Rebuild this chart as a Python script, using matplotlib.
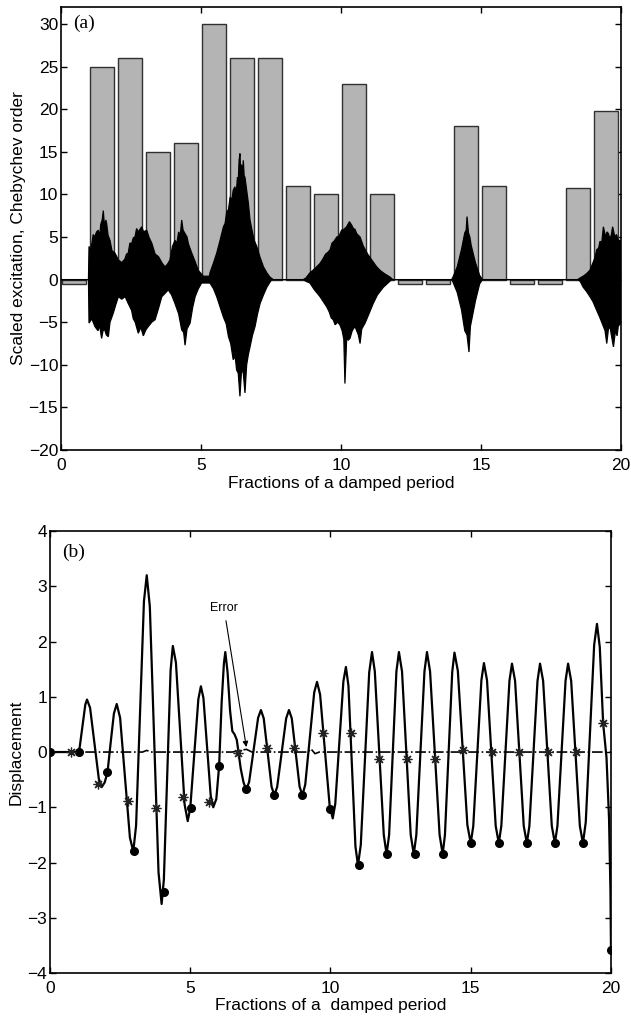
import numpy as np
from matplotlib import pyplot as plt

# ---------------- panel (a): excitation segments ----------------
BAR_ORDER = [-0.5, 25, 26, 15, 16, 30, 26, 26, 11, 10,
             23, 10, -0.5, -0.5, 18, 11, -0.5, -0.5, 10.8, 19.8]

# upper / lower envelope of the (dense) scaled excitation signal
SIG_UP_X = [0, 0.98, 1.0, 1.05, 1.1, 1.15, 1.2, 1.27, 1.33, 1.38, 1.42, 1.47, 1.51,
            1.55, 1.6, 1.63, 1.68, 1.75, 1.82, 1.93, 2.05, 2.17, 2.28, 2.34, 2.40,
            2.46, 2.52, 2.58, 2.64, 2.70, 2.75, 2.82, 2.88, 2.95, 3.06, 3.15,
            3.24, 3.36, 3.48, 3.60, 3.71, 3.80, 3.89, 3.98, 4.07, 4.14, 4.2, 4.26,
            4.31, 4.36, 4.43, 4.50, 4.55, 4.67, 4.78, 4.90, 5.08, 5.3,
            5.32, 5.45, 5.56, 5.68, 5.80, 5.86, 5.92, 5.98, 6.04, 6.10, 6.15, 6.21,
            6.26, 6.30, 6.33, 6.36, 6.39, 6.42, 6.45, 6.48, 6.51, 6.54, 6.57, 6.63,
            6.69, 6.75, 6.81, 6.90, 6.99, 7.11, 7.23, 7.35, 7.46, 7.58,
            8.65, 8.75, 8.89, 9.0, 9.1, 9.25, 9.35, 9.45, 9.53, 9.61, 9.68, 9.75,
            9.85, 9.93, 10.02, 10.1, 10.2, 10.3, 10.38, 10.44, 10.5, 10.56, 10.68,
            10.8, 10.95, 11.1, 11.25, 11.39, 11.55, 11.75, 11.85,
            13.95, 14.0, 14.15, 14.3, 14.42, 14.47, 14.5, 14.55, 14.6, 14.65,
            14.8, 14.95, 15.05,
            18.45, 18.54, 18.65, 18.77, 18.89, 19.0, 19.07, 19.13, 19.2, 19.25,
            19.31, 19.37, 19.45, 19.5, 19.55, 19.6, 19.65, 19.7, 19.78, 19.84,
            19.9, 20.0]
SIG_UP_Y = [0, 0, 3.9, 3.4, 4.2, 5.3, 5.0, 5.6, 5.8, 5.1, 6.5, 7.0, 8.1,
            6.3, 7.0, 6.6, 5.2, 4.6, 3.4, 3.1, 2.3, 2.0, 2.4, 3.0, 3.1,
            4.3, 4.2, 4.9, 5.0, 6.0, 5.6, 5.9, 6.2, 5.6, 5.8, 4.9,
            4.3, 3.0, 2.7, 2.0, 1.5, 1.8, 2.3, 3.9, 4.6, 4.3, 5.6, 5.2,
            7.0, 5.8, 5.4, 5.0, 4.2, 3.1, 2.2, 1.1, 0.4, 0.4,
            0.8, 2.0, 3.1, 4.6, 6.2, 6.6, 8.0, 8.2, 9.7, 9.3, 10.5, 10.9,
            10.2, 12.0, 11.6, 14.0, 14.8, 12.5, 13.5, 12.0, 14.0, 12.2, 12.0, 10.5,
            9.0, 7.0, 6.0, 4.6, 3.9, 2.6, 1.5, 0.8, 0.3, 0.0,
            0.0, 0.2, 0.8, 1.1, 1.4, 1.9, 2.4, 3.0, 3.2, 3.5, 4.3, 4.5,
            5.0, 5.1, 5.8, 5.9, 6.2, 6.8, 6.4, 6.0, 5.9, 5.4, 5.0,
            3.9, 3.0, 2.3, 1.6, 1.1, 0.7, 0.3, 0.0,
            0.0, 0.3, 1.5, 3.5, 5.5, 5.8, 7.4, 5.5, 5.0, 4.0,
            2.0, 0.5, 0.0,
            0.0, 0.2, 0.4, 0.7, 1.1, 2.0, 2.6, 3.5, 3.7, 4.5,
            4.3, 6.2, 5.0, 5.6, 5.4, 4.8, 5.2, 6.2, 5.0, 5.3,
            4.6, 4.6]

SIG_LO_X = [0, 0.98, 1.0, 1.1, 1.21, 1.32, 1.38, 1.45, 1.5, 1.55, 1.62, 1.69, 1.75,
            1.87, 1.96, 2.05, 2.17, 2.29, 2.40, 2.52, 2.58, 2.65, 2.70, 2.76, 2.85,
            2.94, 3.03, 3.12, 3.24, 3.36, 3.48, 3.60, 3.72, 3.83, 3.95, 4.07, 4.2,
            4.31, 4.38, 4.43, 4.5, 4.61, 4.70, 4.79, 4.90, 5.02, 5.3,
            5.32, 5.45, 5.56, 5.68, 5.80, 5.9, 5.98, 6.06, 6.15, 6.22, 6.27, 6.33,
            6.39, 6.45, 6.51, 6.57, 6.63, 6.69, 6.75, 6.84, 6.93, 7.02, 7.11, 7.23,
            7.35, 7.52,
            8.65, 8.75, 8.89, 9.05, 9.25, 9.37, 9.49, 9.58, 9.65, 9.72, 9.79, 9.88,
            9.96, 10.04, 10.1, 10.14, 10.2, 10.26, 10.32, 10.4, 10.5, 10.56, 10.62,
            10.68, 10.74, 10.86, 11.0, 11.15, 11.3, 11.51, 11.81,
            13.95, 14.0, 14.15, 14.3, 14.42, 14.5, 14.57, 14.62, 14.65, 14.8,
            14.95, 15.05,
            18.45, 18.54, 18.65, 18.77, 18.89, 19.0, 19.13, 19.25, 19.37, 19.43,
            19.49, 19.55, 19.61, 19.67, 19.73, 19.8, 19.86, 19.9, 20.0]
SIG_LO_Y = [0, 0, -5.1, -4.6, -5.5, -6.0, -5.4, -6.9, -6.0, -5.8, -6.5, -6.7, -5.0,
            -3.9, -2.9, -2.0, -2.3, -2.0, -2.8, -3.6, -4.6, -5.0, -5.6, -6.3, -5.6,
            -6.6, -5.9, -5.5, -5.0, -4.7, -3.4, -2.0, -1.6, -1.2, -1.8, -2.8, -4.0,
            -5.9, -6.2, -7.7, -5.8, -5.1, -3.3, -2.0, -1.1, -0.4, -0.4,
            -0.4, -1.1, -2.0, -3.2, -4.4, -5.2, -6.7, -7.5, -9.4, -9.0, -10.6, -11.0,
            -13.7, -10.5, -11.0, -13.3, -10.0, -8.8, -7.9, -6.5, -5.5, -4.0, -2.8, -1.8,
            -0.9, 0.0,
            0.0, -0.2, -0.4, -1.2, -2.0, -2.6, -3.2, -3.8, -4.5, -4.7, -5.3, -5.0,
            -5.3, -6.0, -7.0, -12.2, -7.0, -7.1, -6.9, -6.0, -5.5, -6.0, -6.5,
            -7.5, -5.8, -5.1, -4.0, -2.8, -1.8, -0.9, 0.0,
            0.0, -0.3, -1.5, -3.5, -6.0, -6.5, -8.5, -5.5, -5.0, -2.5,
            -0.5, 0.0,
            0.0, -0.2, -0.9, -1.4, -2.0, -2.6, -3.6, -4.5, -5.5, -6.0,
            -7.5, -5.8, -5.6, -6.8, -7.9, -6.0, -6.6, -5.5, -5.0]

# ---------------- panel (b): displacement ----------------
DISP_X = [0, 1.0, 1.06, 1.16, 1.26, 1.32,
          1.43, 1.585, 1.74, 1.85,
          1.95, 2.05, 2.17, 2.28, 2.38,
          2.50, 2.675, 2.85, 2.97,
          3.07, 3.21, 3.35, 3.45,
          3.56, 3.715, 3.87, 3.98,
          4.06, 4.18, 4.30, 4.38,
          4.49, 4.645, 4.80, 4.91,
          5.00, 5.145, 5.29, 5.38,
          5.47, 5.60, 5.73, 5.82,
          5.93, 6.03, 6.12, 6.20, 6.25,
          6.33, 6.42, 6.50, 6.58, 6.66, 6.72, 6.80, 6.90, 7.00,
          7.10, 7.26, 7.42, 7.52,
          7.62, 7.76, 7.90, 8.00,
          8.10, 8.26, 8.42, 8.52,
          8.62, 8.76, 8.90, 9.00,
          9.10, 9.26, 9.42, 9.52,
          9.63, 9.80, 9.97, 10.08,
          10.17, 10.315, 10.46, 10.55,
          10.64, 10.765, 10.89, 10.98,
          11.08, 11.23, 11.38, 11.48,
          11.58, 11.74, 11.90, 12.00,
          12.09, 12.22, 12.35, 12.44,
          12.55, 12.705, 12.86, 12.97,
          13.06, 13.205, 13.35, 13.44,
          13.55, 13.72, 13.89, 14.00,
          14.08, 14.21, 14.34, 14.42,
          14.54, 14.71, 14.88, 15.00,
          15.09, 15.235, 15.38, 15.47,
          15.58, 15.735, 15.89, 16.00,
          16.09, 16.235, 16.38, 16.47,
          16.58, 16.735, 16.89, 17.00,
          17.09, 17.235, 17.38, 17.47,
          17.58, 17.735, 17.89, 18.00,
          18.09, 18.235, 18.38, 18.47,
          18.58, 18.735, 18.89, 19.00,
          19.10, 19.25, 19.40, 19.50,
          19.60, 19.72, 19.84, 19.93, 19.98, 20.0]
DISP_Y = [0, 0, 0.09, 0.47, 0.86, 0.95,
          0.80, 0.16, -0.48, -0.63,
          -0.55, -0.37, 0.20, 0.70, 0.87,
          0.62, -0.47, -1.55, -1.80,
          -1.33, 0.70, 2.73, 3.20,
          2.63, 0.23, -2.18, -2.75,
          -2.31, -0.42, 1.48, 1.92,
          1.62, 0.34, -0.95, -1.25,
          -1.02, -0.03, 0.96, 1.19,
          0.98, 0.10, -0.79, -1.00,
          -0.85, -0.25, 0.90, 1.60, 1.81,
          1.45, 0.75, 0.38, 0.32, 0.22, 0.00, -0.30, -0.55, -0.68,
          -0.54, 0.04, 0.62, 0.76,
          0.61, -0.01, -0.63, -0.78,
          -0.63, -0.01, 0.61, 0.76,
          0.61, -0.01, -0.63, -0.78,
          -0.59, 0.25, 1.08, 1.27,
          1.04, 0.04, -0.97, -1.20,
          -0.94, 0.17, 1.28, 1.54,
          1.20, -0.26, -1.71, -2.05,
          -1.68, -0.12, 1.44, 1.81,
          1.46, -0.02, -1.50, -1.85,
          -1.50, -0.02, 1.46, 1.81,
          1.46, -0.02, -1.50, -1.85,
          -1.50, -0.02, 1.46, 1.81,
          1.46, -0.02, -1.50, -1.85,
          -1.50, -0.03, 1.45, 1.80,
          1.47, 0.08, -1.32, -1.65,
          -1.34, -0.02, 1.30, 1.61,
          1.30, -0.02, -1.34, -1.65,
          -1.34, -0.02, 1.29, 1.60,
          1.29, -0.03, -1.34, -1.65,
          -1.34, -0.02, 1.29, 1.60,
          1.29, -0.03, -1.34, -1.65,
          -1.34, -0.02, 1.29, 1.60,
          1.29, -0.03, -1.34, -1.65,
          -1.27, 0.34, 1.94, 2.32,
          1.90, 0.52, -0.10, -1.20, -2.50, -3.60]

# dash-dot error curve (close to zero)
ERR_X = [0, 3.3, 3.45, 3.6, 6.5, 6.8, 7.0, 7.2, 9.2, 9.3, 9.45, 9.6, 20]
ERR_Y = [0, 0, 0.03, 0, 0, 0.03, 0.05, 0, 0, 0.06, -0.03, 0, 0]

DOT_X = [0, 1.03, 2.05, 3.0, 4.05, 5.03, 6.03, 7.0, 8.0, 9.0, 10.0,
         11.0, 12.0, 13.0, 14.0, 15.0, 16.0, 17.0, 18.0, 19.0, 20.0]
DOT_Y = [0, 0, -0.37, -1.80, -2.53, -1.02, -0.25, -0.67, -0.77, -0.77, -1.03,
         -2.05, -1.85, -1.85, -1.85, -1.65, -1.65, -1.65, -1.65, -1.65, -3.58]

STAR_X = [0.75, 1.72, 2.77, 3.77, 4.75, 5.68, 6.72, 7.73, 8.70, 9.74,
          10.73, 11.73, 12.73, 13.73, 14.72, 15.76, 16.72, 17.75, 18.75, 19.72]
STAR_Y = [0, -0.58, -0.89, -1.02, -0.82, -0.90, -0.02, 0.07, 0.07, 0.34,
          0.34, -0.13, -0.13, -0.13, 0.04, 0.0, 0.0, 0.0, 0.0, 0.52]

SANS = "Liberation Sans"
SERIF = "Liberation Serif"
FONT_SIZE = 12.5


def style_axis(ax):
    """MATLAB-like boxed axis with inward ticks on all sides"""
    ax.tick_params(direction="in", top=True, right=True, length=4, width=1,
                   labelsize=FONT_SIZE)
    ax.tick_params(axis="x", pad=6)
    ax.tick_params(axis="y", pad=2)
    for lbl in ax.get_xticklabels() + ax.get_yticklabels():
        lbl.set_fontfamily(SANS)
    for sp in ax.spines.values():
        sp.set_linewidth(1.2)


fig = plt.figure(figsize=(6.31, 10.16), dpi=100)

# ---- (a)
ax1 = fig.add_axes([0.0967, 0.5571, 0.8875, 0.4360])
segments = np.arange(len(BAR_ORDER))
ax1.bar(segments + 0.05, BAR_ORDER, width=0.83, align="edge",
        color="#b4b4b4", edgecolor="#303030", linewidth=1.0, zorder=2)
poly_x = np.concatenate([SIG_UP_X, SIG_LO_X[::-1]])
poly_y = np.concatenate([SIG_UP_Y, SIG_LO_Y[::-1]])
ax1.fill(poly_x, poly_y, facecolor="black", edgecolor="black",
         linewidth=0.9, zorder=3)
ax1.set_xlim(0, 20)
ax1.set_ylim(-20, 32)
ax1.set_xticks([0, 5, 10, 15, 20])
ax1.set_yticks(np.arange(-20, 31, 5))
style_axis(ax1)
ax1.set_xlabel("Fractions of a damped period", fontsize=FONT_SIZE,
               family=SANS, labelpad=2)
ax1.set_ylabel("Scaled excitation, Chebychev order", fontsize=FONT_SIZE,
               family=SANS, labelpad=2)
ax1.text(0.43, 30.1, "(a)", fontsize=14, family=SERIF, va="center")

# ---- (b)
ax2 = fig.add_axes([0.0792, 0.0423, 0.8891, 0.4350])
ax2.plot(DISP_X, DISP_Y, color="black", linewidth=1.6, zorder=3)
ax2.plot(ERR_X, ERR_Y, color="black", linestyle="-.", linewidth=1.2, zorder=2)
ax2.plot(DOT_X, DOT_Y, linestyle="none", marker="o", markersize=5.5,
         color="black", zorder=4)
ax2.plot(STAR_X, STAR_Y, linestyle="none", marker=(8, 2, 0), markersize=7,
         color="#222222", markeredgewidth=0.9, zorder=4)
ax2.annotate("Error", xy=(7.0, 0.09), xytext=(6.2, 2.61), ha="center",
             va="center", fontsize=9, family=SANS,
             arrowprops=dict(arrowstyle="-|>", color="black", lw=0.8,
                             mutation_scale=8, shrinkA=3, shrinkB=0))
ax2.set_xlim(0, 20)
ax2.set_ylim(-4, 4)
ax2.set_xticks([0, 5, 10, 15, 20])
ax2.set_yticks(np.arange(-4, 5, 1))
style_axis(ax2)
ax2.set_xlabel("Fractions of a  damped period", fontsize=FONT_SIZE,
               family=SANS, labelpad=1)
ax2.set_ylabel("Displacement", fontsize=FONT_SIZE, family=SANS, labelpad=3)
ax2.text(0.43, 3.62, "(b)", fontsize=14, family=SERIF, va="center")

fig.savefig("out.png", dpi=100)
plt.close()
